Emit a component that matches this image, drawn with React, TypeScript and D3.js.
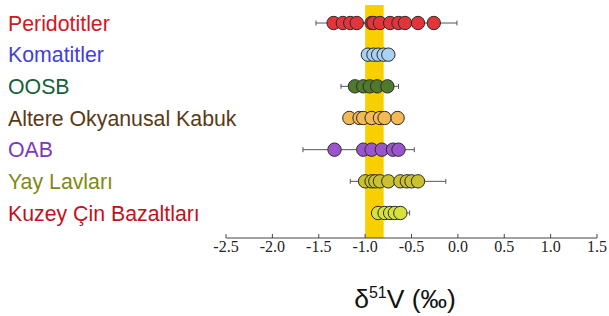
import React from "react";
import * as d3 from "d3";

const categories = [
  "Peridotitler",
  "Komatitler",
  "OOSB",
  "Altere Okyanusal Kabuk",
  "OAB",
  "Yay Lavları",
  "Kuzey Çin Bazaltları",
];
const labelColors = ["#cc1a24", "#4040e0", "#16603a", "#5a3a14", "#7a3ab8", "#7f8a14", "#c4101c"];
const dotColors = ["#e3343c", "#a9d2f2", "#4f7a2e", "#f2b955", "#9b55cc", "#c9c22e", "#d6e23c"];

const values: number[][] = [
  [-1.34, -1.24, -1.16, -1.09, -0.93, -0.91, -0.84, -0.73, -0.64, -0.57, -0.43, -0.26],
  [-0.97, -0.91, -0.86, -0.8, -0.75],
  [-1.11, -1.02, -0.95, -0.87, -0.76],
  [-1.17, -1.06, -1.02, -0.93, -0.84, -0.79, -0.65],
  [-1.33, -1.02, -0.93, -0.82, -0.7, -0.64],
  [-1.0, -0.93, -0.89, -0.84, -0.75, -0.62, -0.55, -0.5, -0.43],
  [-0.86, -0.79, -0.73, -0.68, -0.62],
];
const errLow = [-1.53, -1.0, -1.26, -1.23, -1.67, -1.16, -0.92];
const errHigh = [-0.01, -0.7, -0.64, -0.59, -0.47, -0.13, -0.52];

const ticks = [-2.5, -2.0, -1.5, -1.0, -0.5, 0.0, 0.5, 1.0, 1.5];
const band = [-1.0, -0.8];

export default function App() {
  const W = 609, H = 316;
  const x = d3.scaleLinear().domain([-2.5, 1.5]).range([226, 597]);
  const y = d3.scalePoint<number>().domain(d3.range(categories.length)).range([23, 213]);
  const axisY = 238;
  return (
    <svg width={W} height={H} style={{ position: "absolute", left: 0, top: 0, background: "#fff" }}>
      <rect x={x(band[0])} y={5} width={x(band[1]) - x(band[0])} height={axisY - 5} fill="#f8d000" />
      {categories.map((c, i) => (
        <text key={c} x={8} y={y(i)! + 7.5} fill={labelColors[i]} fontFamily="Arial, 'Liberation Sans', sans-serif" fontSize={21.3}>
          {c}
        </text>
      ))}
      {categories.map((c, i) => {
        const cy = y(i)!;
        return (
          <g key={"r" + i}>
            <line x1={x(errLow[i])} x2={x(errHigh[i])} y1={cy} y2={cy} stroke="#555" strokeWidth={1} />
            <line x1={x(errLow[i])} x2={x(errLow[i])} y1={cy - 2.5} y2={cy + 2.5} stroke="#555" strokeWidth={1} />
            <line x1={x(errHigh[i])} x2={x(errHigh[i])} y1={cy - 2.5} y2={cy + 2.5} stroke="#555" strokeWidth={1} />
            {values[i].map((v, j) => (
              <circle key={j} cx={x(v)} cy={cy} r={6.7} fill={dotColors[i]} stroke="#2a2a2a" strokeWidth={1} />
            ))}
          </g>
        );
      })}
      <line x1={x(-2.5)} x2={x(1.5)} y1={axisY} y2={axisY} stroke="#444" strokeWidth={1} />
      {ticks.map((t) => (
        <g key={t}>
          <line x1={x(t)} x2={x(t)} y1={axisY - 4} y2={axisY} stroke="#444" strokeWidth={1} />
          <text x={x(t)} y={251.5} textAnchor="middle" fontFamily="'Liberation Serif', 'Times New Roman', serif" fontSize={16} fill="#222">
            {t.toFixed(1)}
          </text>
        </g>
      ))}
      <text x={405} y={308} textAnchor="middle" fontFamily="Arial, 'Liberation Sans', sans-serif" fontSize={26.5} fill="#111">
        δ<tspan fontSize={16} dy={-10}>51</tspan>
        <tspan dy={10}>V (‰)</tspan>
      </text>
    </svg>
  );
}
